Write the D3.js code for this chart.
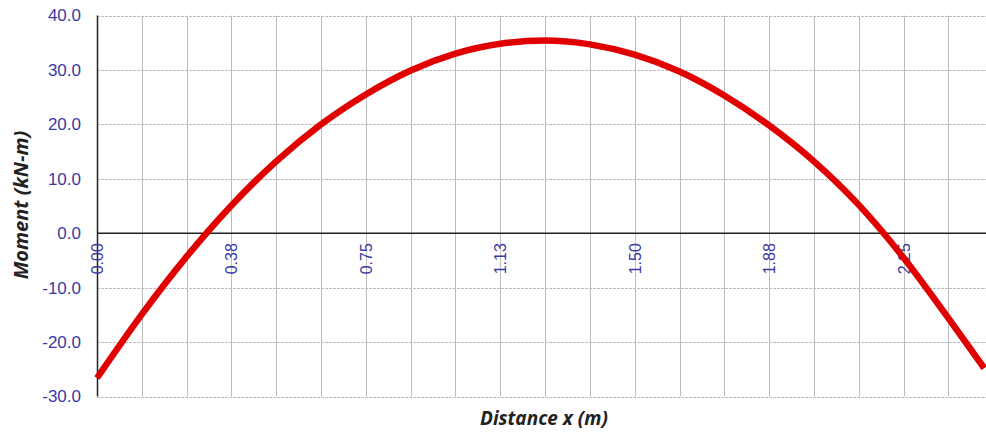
<!DOCTYPE html>
<html><head><meta charset="utf-8">
<script src="https://cdn.jsdelivr.net/npm/d3@7"></script>
<style>body{margin:0;background:#fff}svg{display:block}</style>
</head><body>
<svg id="c" width="986" height="434"></svg>
<script>
const xValues = [0,0.125,0.25,0.375,0.5,0.625,0.75,0.875,1.0,1.125,1.25,1.375,1.5,1.625,1.75,1.875,2.0,2.125,2.25,2.375,2.475];
const moment  = [-26.6,-14.9,-4.3,5.1,13.2,20.0,25.5,29.9,33.0,34.8,35.4,34.7,32.8,29.7,25.3,19.8,13.2,5.2,-4.5,-15.6,-24.8];
const xTicks = [0,0.375,0.75,1.125,1.5,1.875,2.25];
const xTickLabels = ["0.00","0.38","0.75","1.13","1.50","1.88","2.25"];
const yTicks = [-30,-20,-10,0,10,20,30,40];
const yTickLabels = ["-30.0","-20.0","-10.0","0.0","10.0","20.0","30.0","40.0"];
const xGrid = d3.range(0, 20).map(i => i*0.125);

const svg = d3.select("#c");
const L = 97, R = 986, T = 15.5, B = 396.5;
const x = d3.scaleLinear().domain([0, 2.48]).range([L, R]);
const y = d3.scaleLinear().domain([-30, 40]).range([B, T]);
const tickColor = "#3a3aa2";
const tickFont = "Liberation Sans, Arial, sans-serif";

// grid
svg.append("g").selectAll("line").data(xGrid).join("line")
  .attr("x1", d => Math.round(x(d))+0.5).attr("x2", d => Math.round(x(d))+0.5)
  .attr("y1", T).attr("y2", B).attr("stroke", "#bdbdbd").attr("stroke-width", 1);
svg.append("g").selectAll("line").data(yTicks).join("line")
  .attr("x1", L).attr("x2", R)
  .attr("y1", d => Math.round(y(d))+0.5).attr("y2", d => Math.round(y(d))+0.5)
  .attr("stroke", "#bdbdbd").attr("stroke-width", 1).attr("stroke-dasharray", d => d===0 ? null : "3,1");

// y axis
const yAxis = d3.axisLeft(y).tickValues(yTicks).tickFormat((d,i) => yTickLabels[i]).tickSize(0).tickPadding(16);
const ga = svg.append("g").attr("transform", `translate(${L},0)`).call(yAxis);
ga.select(".domain").remove();
ga.selectAll("text").attr("fill", tickColor).style("font-family", tickFont).style("font-size", "17px");

// axis lines
svg.append("line").attr("x1", L+0.5).attr("x2", L+0.5).attr("y1", T).attr("y2", B).attr("stroke", "#222").attr("stroke-width", 1.5);
svg.append("line").attr("x1", L).attr("x2", R).attr("y1", y(0)).attr("y2", y(0)).attr("stroke", "#222").attr("stroke-width", 1.5);

// x tick labels (rotated)
svg.append("g").selectAll("text").data(xTicks).join("text")
  .attr("transform", (d) => `translate(${x(d)+6},${y(0)+10}) rotate(-90)`)
  .attr("text-anchor", "end")
  .attr("fill", tickColor)
  .style("font-family", tickFont).style("font-size", "16px")
  .text((d,i) => xTickLabels[i]);

// curve
const line = d3.line().x((d,i) => x(xValues[i])).y(d => y(d)).curve(d3.curveMonotoneX);
svg.append("path").datum(moment).attr("d", line)
  .attr("fill", "none").attr("stroke", "#e00000").attr("stroke-width", 6.5).attr("stroke-linejoin", "round");

// axis titles
svg.append("text").attr("x", 544).attr("y", 425).attr("text-anchor", "middle")
  .style("font-family", "Open Sans, sans-serif").style("font-size", "19px").style("font-weight", "bold").style("font-style", "italic")
  .attr("fill", "#222").text("Distance x (m)");
svg.append("text").attr("transform", "translate(28,205) rotate(-90)").attr("text-anchor", "middle")
  .style("font-family", "Open Sans, sans-serif").style("font-size", "20px").style("font-weight", "bold").style("font-style", "italic")
  .attr("fill", "#222").text("Moment (kN-m)");
</script>
</body></html>
